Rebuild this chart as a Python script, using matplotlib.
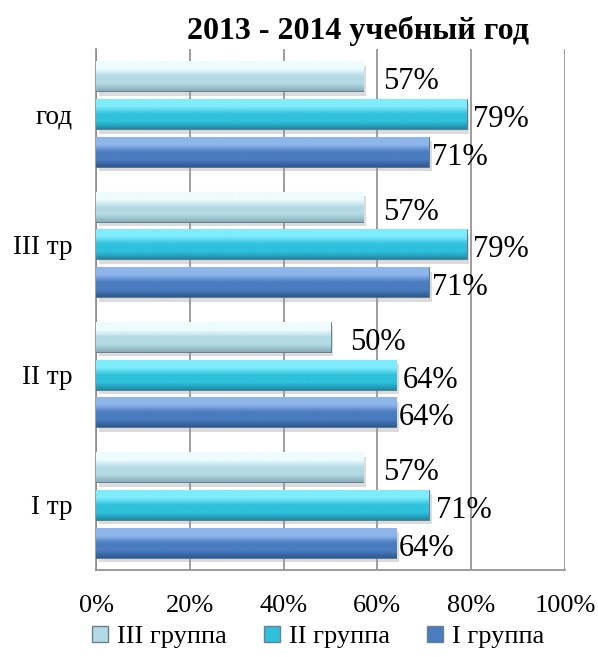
import numpy as np
import matplotlib
matplotlib.use("Agg")
import matplotlib.pyplot as plt
from matplotlib.colors import LinearSegmentedColormap
from matplotlib.patches import Patch

plt.rcParams['font.family'] = ['Liberation Serif', 'DejaVu Serif']

# data
categories = ['I тр', 'II тр', 'III тр', 'год']
group1 = [64, 64, 71, 71]   # I группа
group2 = [71, 64, 79, 79]   # II группа
group3 = [57, 50, 57, 57]   # III группа
series_names = ['I группа', 'II группа', 'III группа']
x_ticks = [0, 20, 40, 60, 80, 100]

# (top, middle, bottom) colours for the glossy look
shades = {
    'I группа': ('#8fb6ea', '#4a7cc0', '#2e5a92'),
    'II группа': ('#7fecfb', '#2fc0dc', '#1d8aa3'),
    'III группа': ('#eefcfe', '#b4dbe5', '#89adba'),
}

fig = plt.figure(figsize=(5.98, 6.57), dpi=100)
ax = fig.add_axes([96/598, 1 - 570/657, (565-96)/598, (570-49)/657])

y = np.arange(len(categories))
h = 0.23
step = 0.29
label_dx = {'I группа': 2, 'II группа': 5, 'III группа': 14}

for vals, name, off in [(group1, 'I группа', -step), (group2, 'II группа', 0), (group3, 'III группа', step)]:
    top, mid, bot = shades[name]
    cmap = LinearSegmentedColormap.from_list(name, [bot, mid, mid, top, top])
    # soft shadow
    ax.barh(y + off - 0.035, vals, height=h, left=0.6, color='#9a9a9a', alpha=0.35, zorder=2, linewidth=0)
    bars = ax.barh(y + off, vals, height=h, color=mid, edgecolor='#5a6f80', linewidth=0.6, zorder=3)
    for b, v in zip(bars, vals):
        x0, y0 = b.get_x(), b.get_y()
        grad = np.linspace(0, 1, 100).reshape(-1, 1)
        im = ax.imshow(grad, cmap=cmap, origin='lower', aspect='auto',
                       extent=(x0, x0 + b.get_width(), y0, y0 + b.get_height()), zorder=3.5)
        im.set_clip_path(b)
        ax.annotate(f'{v}%', (v, y0 + b.get_height() / 2), xytext=(label_dx[name], -4),
                    textcoords='offset points', ha='left', va='center', fontsize=22, zorder=5)

ax.set_xlim(0, 100)
ax.set_ylim(-0.5, len(categories) - 0.5)
ax.set_xticks(x_ticks)
ax.set_xticklabels([f'{t}%' for t in x_ticks], fontsize=19)
ax.set_yticks(y)
ax.set_yticklabels(categories, fontsize=19.5)
ax.tick_params(axis='x', length=0, pad=18)
ax.tick_params(axis='y', length=0, pad=17)
ax.grid(axis='x', color='#8c8c8c', linewidth=1.2, zorder=0)
ax.set_axisbelow(True)
for s in ['top', 'right']:
    ax.spines[s].set_visible(False)
for s in ['left', 'bottom']:
    ax.spines[s].set_color('#8c8c8c')
    ax.spines[s].set_linewidth(1.2)

fig.text(358/598, 1 - 31/657, '2013 - 2014 учебный год', ha='center', va='center',
         fontsize=23, fontweight='bold')

handles = [Patch(facecolor=shades[n][1], edgecolor='#6a7f90', label=n) for n in ['III группа', 'II группа', 'I группа']]
fig.legend(handles=handles, loc='center', bbox_to_anchor=(318/598, 1 - 637/657), ncol=3,
           frameon=False, fontsize=19, handlelength=0.6, handleheight=0.6, handletextpad=0.35,
           columnspacing=1.4)

fig.savefig('out.png', dpi=100)
